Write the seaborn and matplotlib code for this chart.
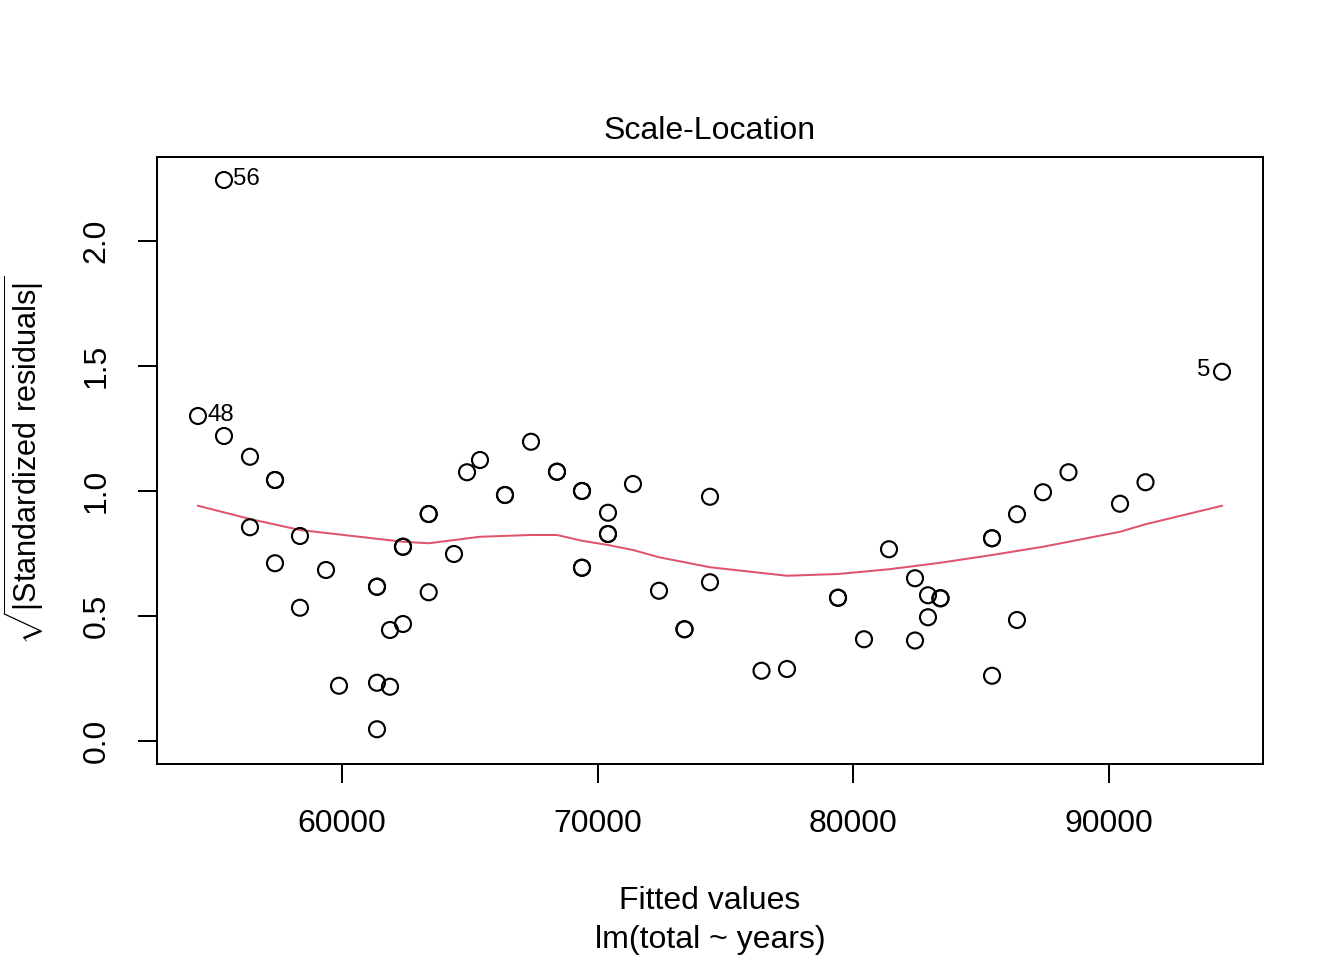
import numpy as np
import pandas as pd
import seaborn as sns
import matplotlib
matplotlib.use("Agg")
import matplotlib.pyplot as plt

# fitted values and sqrt(|standardized residuals|)
fitted = [54368, 55385, 55385, 56402, 56402, 57380, 57380, 57380, 58357, 58357,
          59374, 59883, 61369, 61369, 61369, 61369, 61877, 61877, 62386, 62386,
          62386, 63391, 63391, 63391, 64380, 64889, 65397, 66375, 66375, 67392,
          68409, 68409, 69386, 69386, 69386, 69386, 70403, 70403, 70403, 71381,
          72398, 73395, 73395, 74392, 74392, 76407, 77404, 79399, 79399, 80415,
          81393, 82410, 82410, 82918, 82918, 83407, 83407, 85422, 85422, 85422,
          86399, 86399, 87416, 88413, 90428, 91425, 94417]
sqrt_std_resid = [1.300, 2.244, 1.220, 1.137, 0.855, 1.044, 1.044, 0.711, 0.820, 0.533,
                  0.684, 0.221, 0.617, 0.617, 0.233, 0.047, 0.444, 0.217, 0.777, 0.777,
                  0.468, 0.908, 0.908, 0.595, 0.748, 1.075, 1.124, 0.984, 0.984, 1.197,
                  1.077, 1.077, 1.000, 1.000, 0.693, 0.693, 0.913, 0.828, 0.828, 1.028,
                  0.601, 0.447, 0.447, 0.977, 0.635, 0.281, 0.288, 0.573, 0.573, 0.407,
                  0.767, 0.651, 0.402, 0.583, 0.495, 0.571, 0.571, 0.811, 0.811, 0.261,
                  0.907, 0.484, 0.995, 1.075, 0.949, 1.035, 1.477]

# lowess smoother
smooth_x = [54368, 56402, 58357, 62386, 63391, 65397, 67392, 68409, 69386, 70403,
            71381, 72398, 74392, 77404, 79399, 81393, 83407, 85422, 87416, 90428,
            91425, 94417]
smooth_y = [0.941, 0.888, 0.844, 0.797, 0.791, 0.817, 0.824, 0.824, 0.801, 0.784,
            0.764, 0.735, 0.695, 0.661, 0.668, 0.687, 0.713, 0.744, 0.777, 0.837,
            0.867, 0.941]

# labelled observations and their index in the arrays
labels = ["56", "48", "5"]
label_idx = [1, 0, 66]

plt.rcParams["font.family"] = ["Liberation Sans", "DejaVu Sans"]
plt.rcParams["mathtext.fontset"] = "custom"
plt.rcParams["mathtext.rm"] = "Liberation Sans"

df = pd.DataFrame({"fitted": fitted, "resid": sqrt_std_resid})

fig = plt.figure(figsize=(7, 5), dpi=192)
ax = fig.add_axes([157 / 1344, 1 - 764 / 960, (1263 - 157) / 1344, (764 - 157) / 960])

sns.scatterplot(data=df, x="fitted", y="resid", ax=ax, marker="o", s=36,
                facecolors="none", edgecolors="black", linewidth=0.8, zorder=3)
sns.lineplot(x=smooth_x, y=smooth_y, ax=ax, color="#DF536B", lw=0.75, sort=False,
             zorder=2)

for lab, i in zip(labels, label_idx):
    if lab == "5":
        ax.annotate(lab, (fitted[i], sqrt_std_resid[i]), xytext=(-4.5, 0.5),
                    textcoords="offset points", ha="right", va="center", fontsize=9)
    else:
        ax.annotate(lab, (fitted[i], sqrt_std_resid[i]), xytext=(3.5, 0.5),
                    textcoords="offset points", ha="left", va="center", fontsize=9)

ax.set_xlim(52765, 96020)
ax.set_ylim(-0.092, 2.336)
ax.set_xticks([60000, 70000, 80000, 90000])
ax.set_yticks([0.0, 0.5, 1.0, 1.5, 2.0])
ax.set_xticklabels(["60000", "70000", "80000", "90000"])
ax.set_yticklabels(["0.0", "0.5", "1.0", "1.5", "2.0"], rotation=90, va="center")
ax.tick_params(direction="out", length=7, width=0.75, labelsize=12, pad=10,
               colors="black")
for sp in ax.spines.values():
    sp.set_linewidth(0.75)
    sp.set_color("black")
ax.set_xlabel("")
ax.set_ylabel("")

fig.text(710 / 1344, 1 - 131 / 960, "Scale-Location", ha="center", va="center",
         fontsize=12)
fig.text(710 / 1344, 1 - 901 / 960, "Fitted values", ha="center", va="center",
         fontsize=12)
fig.text(710 / 1344, 1 - 940 / 960, "lm(total ~ years)", ha="center", va="center",
         fontsize=12)
fig.text(24 / 1344, 1 - 460 / 960,
         r"$\sqrt{|\mathrm{Standardized\ residuals}|}$",
         ha="center", va="center", rotation=90, fontsize=11.5)

fig.savefig("out.png", dpi=192, facecolor="white")
